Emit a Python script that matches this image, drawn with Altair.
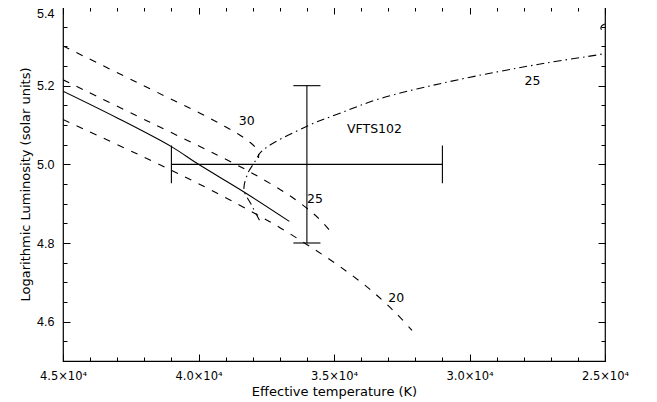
import altair as alt
import pandas as pd

# ---------------- data ----------------
solid_teff = [45000, 43000, 41000, 40000, 38350, 36650]
solid_logl = [5.186, 5.118, 5.045, 5.000, 4.931, 4.855]

track30_teff = [45000, 41790, 39945, 39022, 38469, 38100, 37878, 37786, 37786]
track30_logl = [5.301, 5.192, 5.130, 5.096, 5.074, 5.056, 5.041, 5.026, 5.016]

track25_teff = [45000, 41790, 38653, 37546, 36624, 35886, 35517, 35185]
track25_logl = [5.215, 5.107, 5.001, 4.959, 4.920, 4.882, 4.859, 4.834]

track20_teff = [45000, 41790, 39945, 38100, 36993, 35886, 34779, 33672, 32749, 32122]
track20_logl = [5.114, 5.011, 4.949, 4.882, 4.839, 4.791, 4.740, 4.682, 4.624, 4.578]

dashdot_teff = [37750, 38063, 38321, 38174, 37952, 37657, 35996, 34779,
                33303, 31089, 28985, 27140, 25295, 25000]
dashdot_logl = [4.858, 4.899, 4.935, 4.978, 5.003, 5.034, 5.097, 5.130,
                5.167, 5.205, 5.235, 5.258, 5.278, 5.282]

hook_teff = [25000, 25120, 25150, 25080, 25000]
hook_logl = [5.357, 5.352, 5.345, 5.340, 5.339]

star_teff = [36000]
star_teff_lo = [41000]
star_teff_hi = [31000]
star_logl = [5.0]
star_logl_lo = [4.8]
star_logl_hi = [5.2]

label_text = ["30", "25", "20", "25", "VFTS102"]
label_teff = [38221, 35701, 32705, 27675, 33506]
label_logl = [5.110, 4.911, 4.660, 5.211, 5.089]

x_major = [45000, 40000, 35000, 30000, 25000]
x_minor = list(range(25000, 45001, 1000))
y_major = [4.6, 4.8, 5.0, 5.2, 5.4]
y_minor = [round(4.5 + 0.05 * i, 2) for i in range(19)]

# ---------------- build tables ----------------
def track(name, t, l):
    return pd.DataFrame({"teff": t, "logl": l, "series": name, "ord": range(len(t))})

solid_df = track("solid", solid_teff, solid_logl)
dashed_df = pd.concat([track("30", track30_teff, track30_logl),
                       track("25", track25_teff, track25_logl),
                       track("20", track20_teff, track20_logl)])
dashdot_df = pd.concat([track("dd", dashdot_teff, dashdot_logl),
                        track("hook", hook_teff, hook_logl)])
star_df = pd.DataFrame({"teff": star_teff, "teff_lo": star_teff_lo, "teff_hi": star_teff_hi,
                        "logl": star_logl, "logl_lo": star_logl_lo, "logl_hi": star_logl_hi})
label_df = pd.DataFrame({"text": label_text, "teff": label_teff, "logl": label_logl})

XS = alt.Scale(domain=[25000, 45000], reverse=True, nice=False, zero=False)
YS = alt.Scale(domain=[4.5, 5.4], nice=False, zero=False)

W, H = 542, 354
CAP_T = 500
CAP_L = 0.048


def X(field, axis=None):
    return alt.X(field, type="quantitative", scale=XS, axis=axis)


def Y(field, axis=None):
    return alt.Y(field, type="quantitative", scale=YS, axis=axis)


line_common = dict(color="black", strokeWidth=1.1, clip=True, interpolate="catmull-rom")

solid = alt.Chart(solid_df).mark_line(**line_common).encode(
    x=X("teff"), y=Y("logl"), order="ord:Q")
dashed = alt.Chart(dashed_df).mark_line(strokeDash=[7, 8], **line_common).encode(
    x=X("teff"), y=Y("logl"), detail="series:N", order="ord:Q")
dashdot = alt.Chart(dashdot_df).mark_line(strokeDash=[8, 4, 1.5, 4], **line_common).encode(
    x=X("teff"), y=Y("logl"), detail="series:N", order="ord:Q")

rule_common = dict(color="black", strokeWidth=1.1)
err_h = alt.Chart(star_df).mark_rule(**rule_common).encode(
    x=X("teff_lo"), x2="teff_hi", y=Y("logl"))
err_v = alt.Chart(star_df).mark_rule(**rule_common).encode(
    x=X("teff"), y=Y("logl_lo"), y2="logl_hi")
cap_top = alt.Chart(star_df).transform_calculate(
    a=f"datum.teff - {CAP_T}", b=f"datum.teff + {CAP_T}").mark_rule(**rule_common).encode(
    x=X("a"), x2="b", y=Y("logl_hi"))
cap_bot = alt.Chart(star_df).transform_calculate(
    a=f"datum.teff - {CAP_T}", b=f"datum.teff + {CAP_T}").mark_rule(**rule_common).encode(
    x=X("a"), x2="b", y=Y("logl_lo"))
cap_left = alt.Chart(star_df).transform_calculate(
    a=f"datum.logl - {CAP_L}", b=f"datum.logl + {CAP_L}").mark_rule(**rule_common).encode(
    x=X("teff_lo"), y=Y("a"), y2="b")
cap_right = alt.Chart(star_df).transform_calculate(
    a=f"datum.logl - {CAP_L}", b=f"datum.logl + {CAP_L}").mark_rule(**rule_common).encode(
    x=X("teff_hi"), y=Y("a"), y2="b")

texts = alt.Chart(label_df).mark_text(
    font="DejaVu Sans", fontSize=12.5, color="black", align="center", baseline="middle"
).encode(x=X("teff"), y=Y("logl"), text="text:N")

# ---------------- axes (labels outside, ticks inside on all 4 sides) ----------------
x_label_axis = alt.Axis(orient="bottom", values=x_major,
                        labelExpr="format(datum.value / 10000, '.1f') + '×10⁴'",
                        ticks=False, tickSize=0, domain=False, grid=False,
                        labelFont="DejaVu Sans", labelFontSize=11.5, labelColor="black",
                        labelPadding=9, labelFlush=False, labelOverlap=False,
                        title="Effective temperature (K)", titleFont="DejaVu Sans",
                        titleFontSize=13, titleFontWeight="normal", titleColor="black",
                        titlePadding=4)
y_label_axis = alt.Axis(orient="left", values=y_major, format=".1f",
                        ticks=False, tickSize=0, domain=False, grid=False,
                        labelFont="Liberation Sans", labelFontSize=12.5, labelColor="black",
                        labelPadding=9, labelFlush=True, labelOverlap=False,
                        title="Logarithmic Luminosity (solar units)", titleFont="DejaVu Sans",
                        titleFontSize=13, titleFontWeight="normal", titleColor="black",
                        titlePadding=4)


def tick_axis(orient, values, size):
    return alt.Axis(orient=orient, values=values, labels=False, ticks=True,
                    tickSize=alt.ExprRef(expr=str(-size)), tickColor="black", tickWidth=1,
                    domain=False, grid=False, title=None)


def host(xaxis, yaxis):
    return alt.Chart(star_df).mark_point(opacity=0).encode(
        x=X("teff", xaxis), y=Y("logl", yaxis))


hosts = [
    host(x_label_axis, y_label_axis),
    host(tick_axis("bottom", x_major, 7), tick_axis("left", y_major, 7)),
    host(tick_axis("bottom", x_minor, 4), tick_axis("left", y_minor, 4)),
    host(tick_axis("top", x_major, 7), tick_axis("right", y_major, 7)),
    host(tick_axis("top", x_minor, 4), tick_axis("right", y_minor, 4)),
]

chart = alt.layer(
    solid, dashed, dashdot, err_h, err_v, cap_top, cap_bot, cap_left, cap_right, texts, *hosts
).resolve_axis(x="independent", y="independent").properties(
    width=W, height=H,
    autosize=alt.AutoSizeParams(type="none"),
    padding={"left": 55, "top": -1, "right": 44, "bottom": 44},
).configure_view(stroke="black", strokeWidth=1.2)

chart.save("out.html", embed_options={"renderer": "svg", "actions": False})
